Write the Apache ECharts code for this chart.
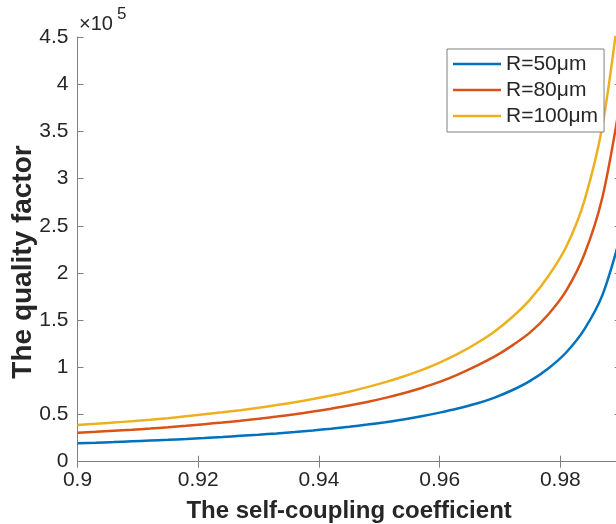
<!DOCTYPE html>
<html>
<head>
<meta charset="utf-8">
<script src="https://cdn.jsdelivr.net/npm/echarts@6/dist/echarts.min.js"></script>
<style>html,body{margin:0;padding:0;background:#fff;}#c{width:616px;height:524px;}</style>
</head>
<body>
<div id="c"></div>
<script>
var xValues = [0.900,0.903,0.906,0.909,0.912,0.915,0.918,0.921,0.924,0.927,0.930,0.933,0.936,0.939,0.942,0.945,0.948,0.951,0.954,0.957,0.960,0.963,0.966,0.969,0.972,0.975,0.978,0.981,0.984,0.987,0.990];
var q50  = [0.195,0.201,0.208,0.216,0.224,0.232,0.241,0.251,0.262,0.274,0.286,0.300,0.315,0.331,0.350,0.370,0.393,0.419,0.448,0.482,0.520,0.563,0.614,0.677,0.757,0.857,0.988,1.160,1.405,1.770,2.400];
var q80  = [0.307,0.317,0.328,0.339,0.351,0.365,0.381,0.398,0.415,0.434,0.455,0.478,0.503,0.531,0.562,0.595,0.633,0.676,0.725,0.781,0.845,0.922,1.012,1.110,1.230,1.370,1.560,1.815,2.200,2.810,3.850];
var q100 = [0.389,0.401,0.415,0.429,0.444,0.461,0.481,0.502,0.523,0.546,0.572,0.600,0.630,0.664,0.701,0.742,0.790,0.843,0.903,0.970,1.050,1.142,1.250,1.375,1.530,1.720,1.965,2.280,2.770,3.570,4.950];
var seriesNames = ['R=50\u03bcm','R=80\u03bcm','R=100\u03bcm'];
var colors = ['#0072BD','#D95319','#EDB120'];
var xTitle = 'The self-coupling coefficient';
var yTitle = 'The quality factor';

function pairs(ys){ return xValues.map(function(x,i){ return [x, ys[i]]; }); }
function fmt(v){ return String(parseFloat(Number(v).toFixed(3))); }

var FONT = 'Liberation Sans';
var axisColor = '#808080';
var chart = echarts.init(document.getElementById('c'), null, {renderer:'canvas'});
chart.setOption({
  animation:false,
  backgroundColor:'#ffffff',
  textStyle:{fontFamily:FONT},
  grid:{left:77.5, top:37, width:543.2, height:424.7, containLabel:false, outerBoundsMode:'none'},
  xAxis:[{
    type:'value', min:0.9, max:0.99, interval:0.02, position:'bottom',
    name:xTitle, nameLocation:'middle', nameGap:38,
    nameTextStyle:{fontSize:24, fontWeight:'bold', color:'#262626', fontFamily:FONT},
    axisLine:{show:true, lineStyle:{color:axisColor, width:1}},
    axisTick:{show:true, inside:true, length:6, lineStyle:{color:axisColor}},
    axisLabel:{fontSize:21, color:'#262626', margin:8, formatter:fmt, fontFamily:FONT, showMaxLabel:false},
    splitLine:{show:false}
  },{
    type:'value', min:0.9, max:0.99, interval:0.02, position:'top',
    axisLine:{show:true, lineStyle:{color:axisColor, width:1}},
    axisTick:{show:true, inside:true, length:6, lineStyle:{color:axisColor}},
    axisLabel:{show:false}, splitLine:{show:false}
  }],
  yAxis:[{
    type:'value', min:0, max:4.5, interval:0.5, position:'left',
    axisLine:{show:true, lineStyle:{color:axisColor, width:1}},
    axisTick:{show:true, inside:true, length:6, lineStyle:{color:axisColor}},
    axisLabel:{fontSize:21, color:'#262626', margin:9, formatter:fmt, fontFamily:FONT},
    splitLine:{show:false}
  },{
    type:'value', min:0, max:4.5, interval:0.5, position:'right',
    axisLine:{show:true, lineStyle:{color:axisColor, width:1}},
    axisTick:{show:true, inside:true, length:6, lineStyle:{color:axisColor}},
    axisLabel:{show:false}, splitLine:{show:false}
  }],
  legend:{
    orient:'vertical', left:447, top:49,
    itemWidth:48, itemHeight:2.5, itemGap:4,
    padding:[4,6,5,6],
    backgroundColor:'#ffffff', borderColor:'#808080', borderWidth:1,
    textStyle:{fontSize:21, color:'#262626', fontFamily:FONT, lineHeight:22},
    data:seriesNames.map(function(n){ return {name:n, icon:'rect'}; })
  },
  graphic:[
    {type:'text', left:79, top:14, style:{text:'\u00d710', fontSize:20, fill:'#262626', fontFamily:FONT}},
    {type:'text', left:117, top:6, style:{text:'5', fontSize:17, fill:'#262626', fontFamily:FONT}},
    {type:'text', x:23, y:262, rotation:Math.PI/2,
     style:{text:yTitle, fontSize:28, fontWeight:'bold', fill:'#262626', fontFamily:FONT, align:'center', verticalAlign:'middle'}}
  ],
  series:[q50,q80,q100].map(function(d,i){
    return {
      name:seriesNames[i], type:'line', data:pairs(d), smooth:0.3,
      showSymbol:false, symbol:'none', clip:true,
      lineStyle:{color:colors[i], width:2.5}, itemStyle:{color:colors[i]}
    };
  })
});
</script>
</body>
</html>
